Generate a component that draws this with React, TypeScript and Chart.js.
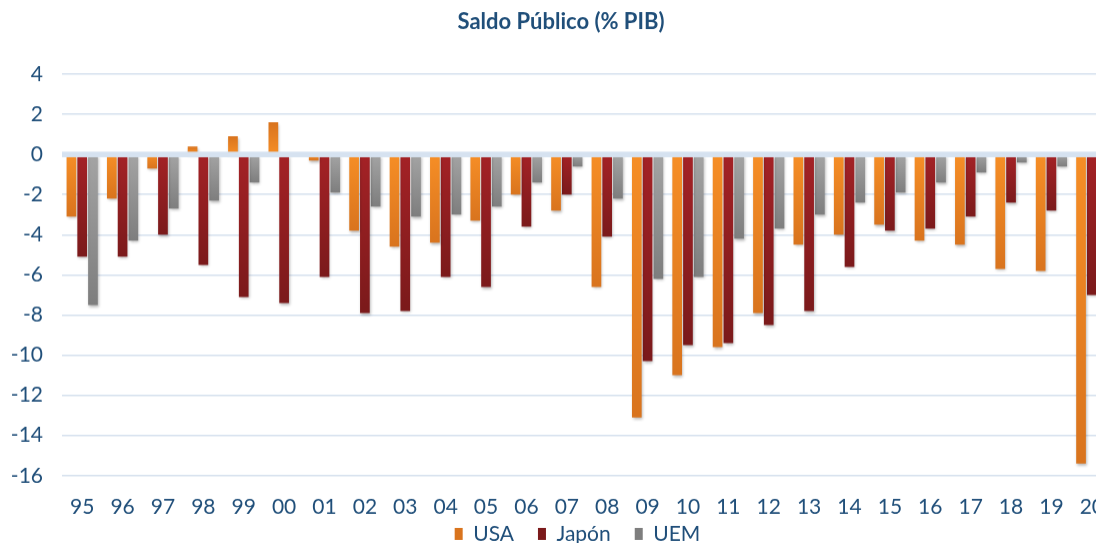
import React, { useEffect, useRef } from 'react';
import { Chart, registerables } from 'chart.js';

Chart.register(...registerables);

const categories = ['95', '96', '97', '98', '99', '00', '01', '02', '03', '04', '05', '06', '07', '08', '09', '10', '11', '12', '13', '14', '15', '16', '17', '18', '19', '20'];
const usa = [-3.1, -2.2, -0.7, 0.4, 0.9, 1.6, -0.3, -3.8, -4.6, -4.4, -3.3, -2.0, -2.8, -6.6, -13.1, -11.0, -9.6, -7.9, -4.5, -4.0, -3.5, -4.3, -4.5, -5.7, -5.8, -15.4];
const japon = [-5.1, -5.1, -4.0, -5.5, -7.1, -7.4, -6.1, -7.9, -7.8, -6.1, -6.6, -3.6, -2.0, -4.1, -10.3, -9.5, -9.4, -8.5, -7.8, -5.6, -3.8, -3.7, -3.1, -2.4, -2.8, -7.0];
const uem = [-7.5, -4.3, -2.7, -2.3, -1.4, 0, -1.9, -2.6, -3.1, -3.0, -2.6, -1.4, -0.6, -2.2, -6.2, -6.1, -4.2, -3.7, -3.0, -2.4, -1.9, -1.4, -0.9, -0.4, -0.6, -7.5];
const seriesNames = ['USA', 'Japón', 'UEM'];
const yMin = -16;
const yMax = 4;
const yStep = 2;

const FONT = 'Lato';
const BLUE = '#1F4E79';
const W = 1115;
const H = 586.5;

function gradientFill(c0: string, c1: string, solid: string) {
  return (ctx: any) => {
    if (ctx.type !== 'data') return solid;
    const chart = ctx.chart;
    const ys = chart.scales && chart.scales.y;
    if (!ys || !chart.chartArea) return solid;
    const v = ctx.raw as number;
    const p0 = ys.getPixelForValue(0);
    const p1 = ys.getPixelForValue(v);
    if (!isFinite(p0) || !isFinite(p1) || Math.abs(p1 - p0) < 1) return solid;
    const g = chart.ctx.createLinearGradient(0, p0, 0, p1);
    g.addColorStop(0, c0);
    g.addColorStop(1, c1);
    return g;
  };
}

const decor = {
  id: 'decor',
  afterLayout(chart: any) {
    const l = chart.legend;
    if (l) {
      l.left += 21.5;
      l.right += 21.5;
      l.top -= 30.5;
      l.bottom -= 30.5;
    }
    const t = chart.titleBlock;
    if (t) {
      t.left += 5;
      t.right += 5;
    }
  },
  beforeDatasetsDraw(chart: any) {
    const ctx = chart.ctx;
    ctx.save();
    ctx.shadowColor = 'rgba(0,0,0,0.28)';
    ctx.shadowBlur = 3;
    ctx.shadowOffsetX = 1;
    ctx.shadowOffsetY = 2;
  },
  afterDatasetsDraw(chart: any) {
    const ctx = chart.ctx;
    ctx.restore();
    const { chartArea } = chart;
    const py = chart.scales.y.getPixelForValue(0);
    ctx.save();
    ctx.fillStyle = '#D6E2F0';
    ctx.fillRect(chartArea.left, py - 2.8, chartArea.right - chartArea.left, 5.6);
    ctx.restore();
  },
};

export default function App() {
  const ref = useRef<HTMLCanvasElement | null>(null);

  useEffect(() => {
    if (!ref.current) return;
    const chart = new Chart(ref.current, {
      type: 'bar',
      data: {
        labels: categories,
        datasets: [
          {
            label: seriesNames[0],
            data: usa,
            backgroundColor: gradientFill('#F68E26', '#D9741E', '#F08A24'),
            borderWidth: 0,
          },
          {
            label: seriesNames[1],
            data: japon,
            backgroundColor: gradientFill('#A42226', '#7B1A1B', '#9B1F22'),
            borderWidth: 0,
          },
          {
            label: seriesNames[2],
            data: uem,
            backgroundColor: gradientFill('#A4A4A4', '#7E7E7E', '#969696'),
            borderWidth: 0,
          },
        ],
      },
      options: {
        animation: false,
        responsive: false,
        maintainAspectRatio: false,
        devicePixelRatio: 1,
        layout: { padding: { left: 0, right: 3, top: 0, bottom: 2 } },
        datasets: {
          bar: { categoryPercentage: 0.8, barPercentage: 0.9 },
        },
        plugins: {
          title: {
            display: true,
            text: 'Saldo Público (% PIB)',
            color: BLUE,
            font: { family: FONT, size: 22, weight: 'bold', lineHeight: 1.2 },
            padding: { top: 9, bottom: 38.6 },
          },
          legend: {
            position: 'bottom',
            labels: {
              color: BLUE,
              font: { family: FONT, size: 21 },
              boxWidth: 8,
              boxHeight: 12,
              padding: 24,
            },
          },
          tooltip: { enabled: false },
        },
        scales: {
          x: {
            grid: { display: false },
            border: { display: false },
            ticks: {
              color: BLUE,
              font: { family: FONT, size: 21 },
              padding: 10.5,
              maxRotation: 0,
              autoSkip: false,
            },
          },
          y: {
            min: yMin,
            max: yMax,
            grid: { color: '#D5E0EE', lineWidth: 1.5, drawTicks: false },
            border: { display: false },
            ticks: {
              stepSize: yStep,
              color: BLUE,
              font: { family: FONT, size: 21 },
              padding: 19,
            },
            afterFit(scale: any) {
              scale.width = 62;
            },
          },
        },
      },
      plugins: [decor],
    });
    return () => chart.destroy();
  }, []);

  return (
    <div style={{ position: 'fixed', left: 0, top: 0, width: 1096, height: 543, overflow: 'hidden', background: '#fff' }}>
      <canvas ref={ref} width={W} height={H} style={{ display: 'block', width: W, height: H }} />
    </div>
  );
}
